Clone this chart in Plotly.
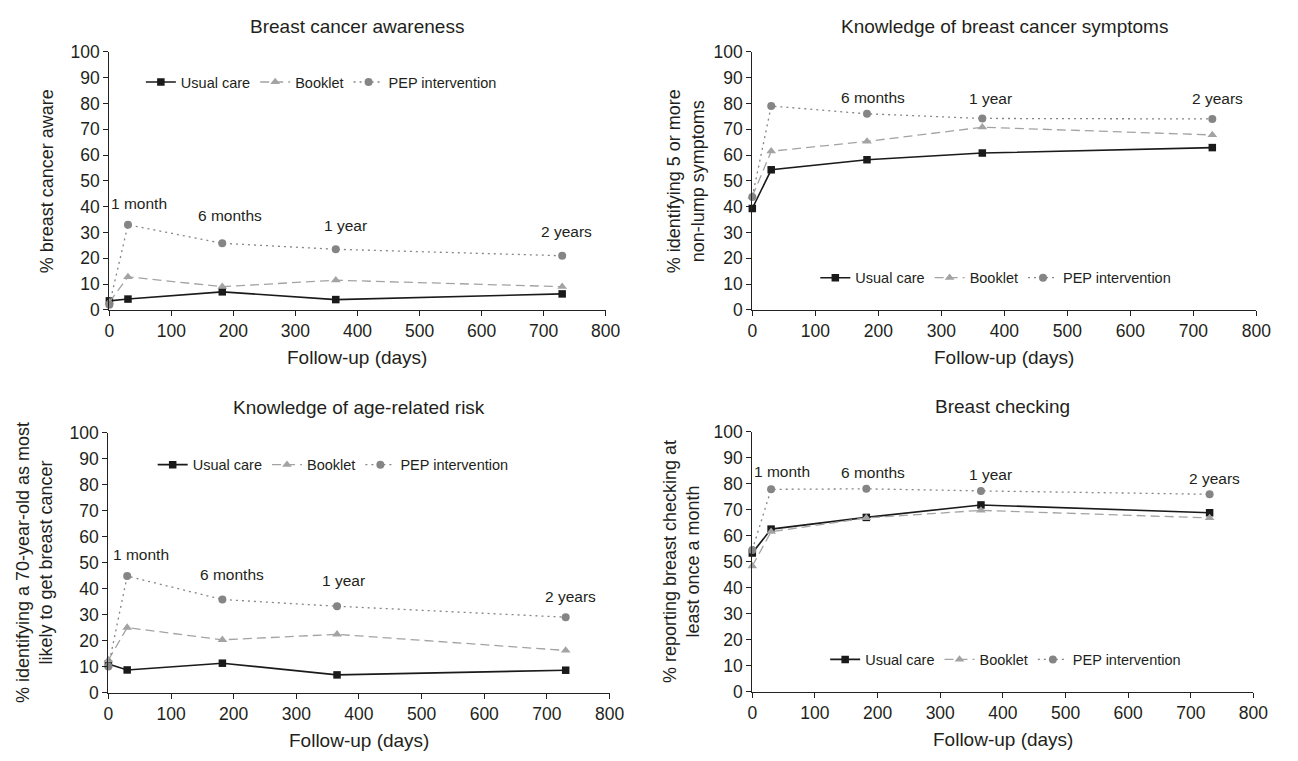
import plotly.graph_objects as go

# ---------------- data ----------------
days = [0, 30, 182, 365, 730]
series_names = ["Usual care", "Booklet", "PEP intervention"]

awareness_usual = [3.5, 4.2, 7.0, 4.0, 6.2]
awareness_booklet = [3.0, 12.8, 9.0, 11.5, 9.0]
awareness_pep = [2.0, 33.0, 25.8, 23.5, 21.0]

symptoms_usual = [39.3, 54.3, 58.2, 60.8, 62.9]
symptoms_booklet = [44.0, 61.5, 65.3, 70.8, 67.8]
symptoms_pep = [43.8, 79.0, 76.0, 74.2, 74.0]

agerisk_usual = [11.0, 8.7, 11.3, 6.8, 8.6]
agerisk_booklet = [12.5, 25.0, 20.3, 22.4, 16.2]
agerisk_pep = [10.0, 44.8, 35.8, 33.2, 29.0]

checking_usual = [53.3, 62.5, 67.0, 71.8, 68.8]
checking_booklet = [48.3, 61.5, 66.8, 69.7, 66.8]
checking_pep = [54.5, 77.8, 78.0, 77.2, 75.9]

panel_titles = ["Breast cancer awareness", "Knowledge of breast cancer symptoms",
                "Knowledge of age-related risk", "Breast checking"]
y_titles = ["% breast cancer aware",
            "% identifying 5 or more<br>non-lump symptoms",
            "% identifying a 70-year-old as most<br>likely to get breast cancer",
            "% reporting breast checking at<br>least once a month"]
x_title = "Follow-up (days)"
x_ticks = [0, 100, 200, 300, 400, 500, 600, 700, 800]
y_ticks = [0, 10, 20, 30, 40, 50, 60, 70, 80, 90, 100]

timepoint_labels = ["1 month", "6 months", "1 year", "2 years"]
# label anchor positions (days, %) per panel; None = label not shown
label_days = [[47, 194, 380, 737], [None, 192, 378, 739],
              [52, 197, 376, 737], [47, 193, 380, 738]]
label_vals = [[41.4, 36.5, 32.7, 30.5], [None, 82.5, 82.0, 82.0],
              [53.1, 45.5, 43.0, 37.1], [84.8, 84.3, 83.7, 81.8]]

panels = [
    (awareness_usual, awareness_booklet, awareness_pep),
    (symptoms_usual, symptoms_booklet, symptoms_pep),
    (agerisk_usual, agerisk_booklet, agerisk_pep),
    (checking_usual, checking_booklet, checking_pep),
]

# ---------------- layout geometry (page pixels) ----------------
W, H = 1298, 761
# (x_left, x_right, y_top, y_bottom) of each plot area
boxes = [(106, 610, 43, 308), (759, 1271, 43, 308),
         (105, 614, 434, 701), (759, 1268, 433, 700)]
legend_pos = [(138, 74), (823, 275), (150, 467), (833, 667)]
ytitle_x = [43, 692, 30, 687]

def fx(px):
    return px / W

def fy(py):
    return 1 - py / H

FONT = "Liberation Sans, Arial, sans-serif"
TXT = "#231f20"
styles = [
    dict(color="#1a1a1a", width=1.6, dash="solid", symbol="square", msize=7.5, mcolor="#1a1a1a"),
    dict(color="#a3a3a3", width=1.3, dash="9px,5px", symbol="triangle-up", msize=8.5, mcolor="#a3a3a3"),
    dict(color="#858585", width=1.3, dash="2px,4px", symbol="circle", msize=8, mcolor="#858585"),
]

fig = go.Figure()
annotations = []
for i, (vals, box) in enumerate(zip(panels, boxes)):
    n = "" if i == 0 else str(i + 1)
    xa, ya = "x" + n, "y" + n
    leg = "legend" + n
    for j, (name, yv) in enumerate(zip(series_names, vals)):
        s = styles[j]
        fig.add_trace(go.Scatter(
            x=days, y=yv, name=name, mode="lines+markers",
            xaxis=xa, yaxis=ya, legend=leg, cliponaxis=False,
            line=dict(color=s["color"], width=s["width"], dash=s["dash"]),
            marker=dict(symbol=s["symbol"], size=s["msize"], color=s["mcolor"]),
        ))
    x0, x1, yt, yb = box
    fig.layout["xaxis" + n] = dict(
        domain=[fx(x0), fx(x1)], anchor=ya, range=[0, 800], tickvals=x_ticks,
        ticks="outside", ticklen=5, tickcolor="#222", showline=True, linecolor="#222",
        linewidth=1.2, showgrid=False, zeroline=False,
        tickfont=dict(size=17.5, color=TXT, family=FONT))
    fig.layout["yaxis" + n] = dict(
        domain=[fy(yb), fy(yt)], anchor=xa, range=[0, 100], tickvals=y_ticks,
        ticks="outside", ticklen=5, tickcolor="#222", showline=True, linecolor="#222",
        linewidth=1.2, showgrid=False, zeroline=False,
        tickfont=dict(size=17.5, color=TXT, family=FONT))
    lx, ly = legend_pos[i]
    fig.layout[leg] = dict(
        x=fx(lx), y=fy(ly), xanchor="left", yanchor="middle", orientation="h",
        bgcolor="rgba(0,0,0,0)", font=dict(size=14.5, color=TXT, family=FONT),
        itemwidth=30, tracegroupgap=0)
    cx = (x0 + x1) / 2
    # panel title
    annotations.append(dict(text=panel_titles[i], x=fx(cx), y=fy(yt - 26), xref="paper", yref="paper",
                            showarrow=False, xanchor="center", yanchor="middle",
                            font=dict(size=19, color=TXT, family=FONT)))
    # x title
    annotations.append(dict(text=x_title, x=fx(cx), y=fy(yb + 49), xref="paper", yref="paper",
                            showarrow=False, xanchor="center", yanchor="middle",
                            font=dict(size=19, color=TXT, family=FONT)))
    # y title
    annotations.append(dict(text=y_titles[i], x=fx(ytitle_x[i]), y=fy((yt + yb) / 2), xref="paper",
                            yref="paper", showarrow=False, xanchor="center", yanchor="middle",
                            textangle=-90, font=dict(size=18, color=TXT, family=FONT)))
    # timepoint labels
    for lab, dx, dv in zip(timepoint_labels, label_days[i], label_vals[i]):
        if dx is None:
            continue
        annotations.append(dict(text=lab, x=dx, y=dv, xref=xa, yref=ya, showarrow=False,
                                xanchor="center", yanchor="middle",
                                font=dict(size=15.5, color=TXT, family=FONT)))

fig.update_layout(
    width=W, height=H, margin=dict(l=0, r=0, t=0, b=0),
    paper_bgcolor="white", plot_bgcolor="white",
    annotations=annotations, font=dict(family=FONT, color=TXT),
)
fig.write_html("out.html", config={"displayModeBar": False},
               post_script="document.body.style.margin='0';document.body.style.overflow='hidden';")
